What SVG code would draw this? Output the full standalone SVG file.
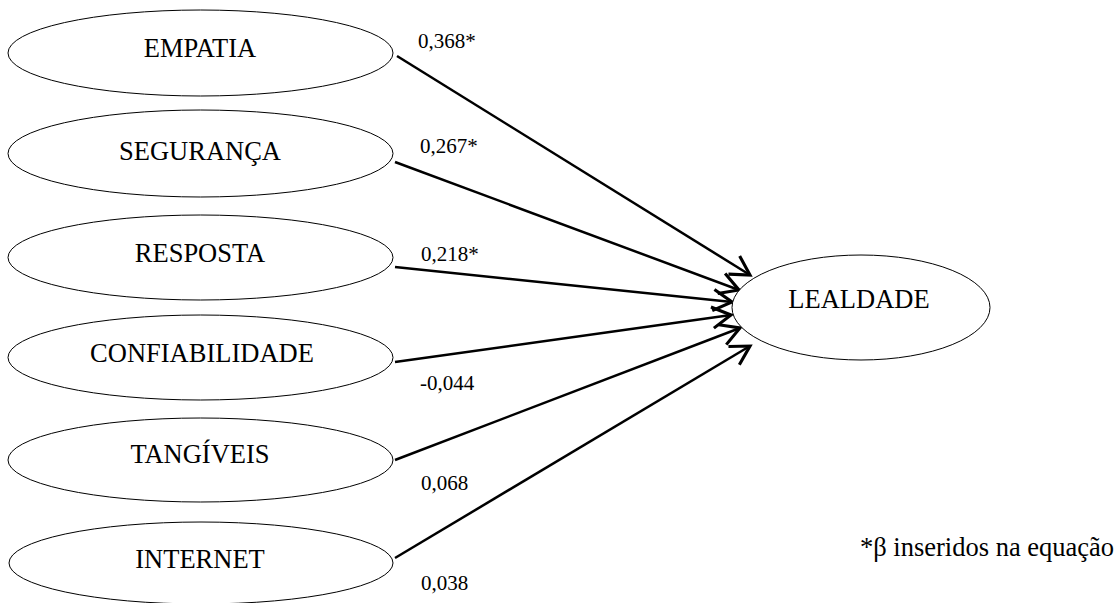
<svg xmlns="http://www.w3.org/2000/svg" width="1119" height="603" viewBox="0 0 1119 603">
<style>
.node ellipse{fill:#fff;stroke:#000;stroke-width:1}
.node text{font-family:"Liberation Serif","Times New Roman",serif;font-size:26.5px;fill:#000;text-anchor:middle}
.lbl{font-family:"Liberation Serif","Times New Roman",serif;font-size:21px;fill:#000}
.note{font-family:"Liberation Serif","Times New Roman",serif;font-size:26.5px;fill:#000}
.edge{stroke:#000;stroke-width:2.5;fill:none;marker-end:url(#arr)}
</style>
<defs>
<marker id="arr" markerUnits="userSpaceOnUse" markerWidth="30" markerHeight="30" viewBox="-20 -12 24 24" refX="0" refY="0" orient="auto">
<path d="M-15,-8.5 L0,0 L-15,8.5" fill="none" stroke="#000" stroke-width="2.5"/>
</marker>
</defs>
<rect width="1119" height="603" fill="#fff"/>
<g id="connectors">
<line class="edge" x1="397" y1="56" x2="750" y2="275"/>
<line class="edge" x1="395" y1="162" x2="739" y2="290"/>
<line class="edge" x1="395" y1="267" x2="732" y2="302"/>
<line class="edge" x1="395" y1="362" x2="731" y2="315"/>
<line class="edge" x1="395" y1="460" x2="740" y2="328"/>
<line class="edge" x1="395" y1="558" x2="750" y2="346"/>
</g>
<g id="n-empatia" class="node"><ellipse cx="200.5" cy="53" rx="192.5" ry="43"/><text x="200" y="57">EMPATIA</text></g>
<g id="n-seguranca" class="node"><ellipse cx="200.5" cy="153.5" rx="192.5" ry="43.5"/><text x="200" y="160">SEGURANÇA</text></g>
<g id="n-resposta" class="node"><ellipse cx="200.5" cy="257.5" rx="192.5" ry="42.5"/><text x="200" y="262">RESPOSTA</text></g>
<g id="n-confiabilidade" class="node"><ellipse cx="200.5" cy="357.5" rx="192.5" ry="42.5"/><text x="202" y="362">CONFIABILIDADE</text></g>
<g id="n-tangiveis" class="node"><ellipse cx="200.5" cy="460" rx="192.5" ry="42"/><text x="200" y="463">TANGÍVEIS</text></g>
<g id="n-internet" class="node"><ellipse cx="201" cy="563" rx="192" ry="41"/><text x="200" y="568">INTERNET</text></g>
<g id="n-lealdade" class="node"><ellipse cx="861" cy="307.5" rx="129" ry="52.5"/><text x="859" y="308">LEALDADE</text></g>
<g id="labels">
<text class="lbl" x="418" y="48">0,368*</text>
<text class="lbl" x="420" y="153">0,267*</text>
<text class="lbl" x="421" y="261">0,218*</text>
<text class="lbl" x="420" y="390">-0,044</text>
<text class="lbl" x="421" y="490">0,068</text>
<text class="lbl" x="421" y="590">0,038</text>
<text class="note" x="860" y="556">*β inseridos na equação</text>
</g>
</svg>
